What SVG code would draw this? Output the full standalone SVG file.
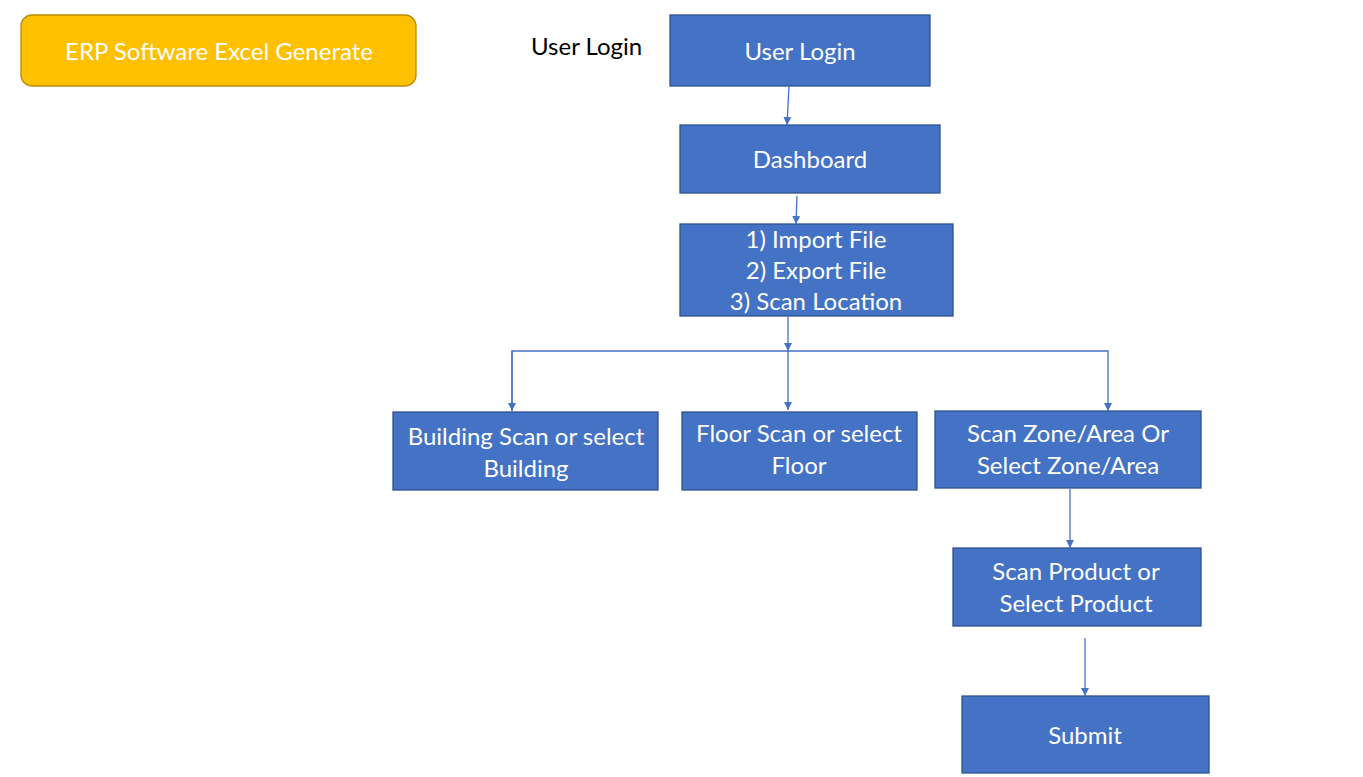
<svg xmlns="http://www.w3.org/2000/svg" width="1363" height="777" viewBox="0 0 1363 777">
<defs>
<style>
.box{fill:#4472C4;stroke:#2F528F;stroke-width:1.3}
.t{font-family:Lato,"Liberation Sans",sans-serif;font-size:24px;fill:#fff;text-anchor:middle}
.c{stroke:#4472C4;stroke-width:1.3;fill:none}
</style>
<marker id="ah" viewBox="0 0 10 10" refX="10" refY="5" markerWidth="8" markerHeight="8" markerUnits="userSpaceOnUse" orient="auto"><path d="M0,0 L10,5 L0,10 z" fill="#4472C4"/></marker>
</defs>
<rect width="1363" height="777" fill="#fff"/>
<g id="erp"><rect x="21" y="15" width="395" height="71" rx="11" fill="#FFC000" stroke="#BC8C00" stroke-width="1.3"/><text class="t" x="219" y="60">ERP Software Excel Generate</text></g>
<g id="userlogin-label"><text x="531" y="55" style="font-family:Lato,'Liberation Sans',sans-serif;font-size:24px;fill:#000">User Login</text></g>
<g id="userlogin"><rect class="box" x="670" y="15" width="260" height="71"/><text class="t" x="800" y="60">User Login</text></g>
<g id="dashboard"><rect class="box" x="680" y="125" width="260" height="68"/><text class="t" x="810" y="168">Dashboard</text></g>
<g id="menu"><rect class="box" x="680" y="224" width="273" height="92"/><text class="t" x="816" y="248">1) Import File</text><text class="t" x="816" y="279">2) Export File</text><text class="t" x="816" y="310">3) Scan Location</text></g>
<g id="building"><rect class="box" x="393" y="412" width="265" height="78"/><text class="t" x="526" y="445">Building Scan or select</text><text class="t" x="526" y="477">Building</text></g>
<g id="floor"><rect class="box" x="682" y="412" width="235" height="78"/><text class="t" x="799" y="442">Floor Scan or select</text><text class="t" x="799" y="474">Floor</text></g>
<g id="zone"><rect class="box" x="935" y="411" width="266" height="77"/><text class="t" x="1068" y="442">Scan Zone/Area Or</text><text class="t" x="1068" y="474">Select Zone/Area</text></g>
<g id="product"><rect class="box" x="953" y="548" width="248" height="78"/><text class="t" x="1076" y="580">Scan Product or</text><text class="t" x="1076" y="612">Select Product</text></g>
<g id="submit"><rect class="box" x="962" y="696" width="247" height="77"/><text class="t" x="1085" y="744">Submit</text></g>
<g id="connectors">
<path class="c" d="M789,86 L787,125" marker-end="url(#ah)"/>
<path class="c" d="M797,196 L796,224" marker-end="url(#ah)"/>
<path class="c" d="M788,316 L788,351" marker-end="url(#ah)"/>
<path class="c" d="M512,411 L512,351 L1108,351 L1108,411" marker-end="url(#ah)"/>
<path class="c" d="M512,351 L512,411" marker-end="url(#ah)"/>
<path class="c" d="M788,351 L788,410" marker-end="url(#ah)"/>
<path class="c" d="M1070,489 L1070,548" marker-end="url(#ah)"/>
<path class="c" d="M1085,638 L1085,696" marker-end="url(#ah)"/>
</g>
</svg>
